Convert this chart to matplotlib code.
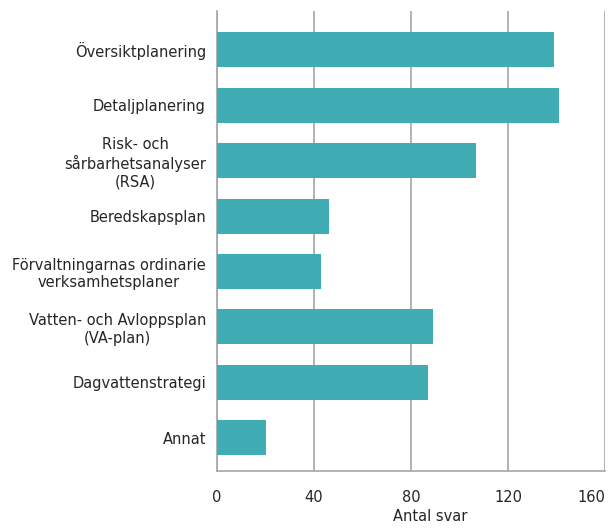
import matplotlib
matplotlib.use("Agg")
import matplotlib.pyplot as plt
import numpy as np

categories = [
    "Översiktplanering",
    "Detaljplanering",
    "Risk- och\nsårbarhetsanalyser\n(RSA)",
    "Beredskapsplan",
    "Förvaltningarnas ordinarie\nverksamhetsplaner",
    "Vatten- och Avloppsplan\n(VA-plan)",
    "Dagvattenstrategi",
    "Annat",
]
values = [139, 141, 107, 46, 43, 89, 87, 20]
xticks = [0, 40, 80, 120, 160]

bar_color = "#40ADB4"
grid_color = "#A6A6A6"
text_color = "#262626"

plt.rcParams["font.family"] = ["DejaVu Sans"]

fig = plt.figure(figsize=(6.13, 5.28), dpi=100)
ax = fig.add_axes([0.354, 0.108, 0.633, 0.871])

y = np.arange(len(categories))
ax.barh(y, values, height=0.63, color=bar_color, zorder=3)

ax.set_xlim(0, 160)
ax.set_ylim(len(categories) - 1 + 0.6, -0.7)
ax.set_xticks(xticks)
ax.set_xticklabels([str(t) for t in xticks], fontsize=10.5, color=text_color)
ax.set_yticks(y)
ax.set_yticklabels(categories, fontsize=10.5, color=text_color)
for lbl in ax.get_yticklabels():
    lbl.set_multialignment("center")
# keep the last tick label inside the figure
ax.get_xticklabels()[-1].set_horizontalalignment("right")
ax.get_xticklabels()[-1].set_x(162)

ax.tick_params(axis="both", length=0)
ax.tick_params(axis="x", pad=14)
ax.tick_params(axis="y", pad=8)

ax.grid(axis="x", color=grid_color, linewidth=1.2, zorder=0)
for side in ["top", "right"]:
    ax.spines[side].set_visible(False)
ax.spines["left"].set_color(grid_color)
ax.spines["left"].set_linewidth(1.2)
ax.spines["bottom"].set_color(grid_color)
ax.spines["bottom"].set_linewidth(1.2)

ax.set_xlabel("Antal svar", fontsize=10.5, color=text_color)
ax.xaxis.set_label_coords(0.55, -0.082)

fig.savefig("out.png", dpi=100)
